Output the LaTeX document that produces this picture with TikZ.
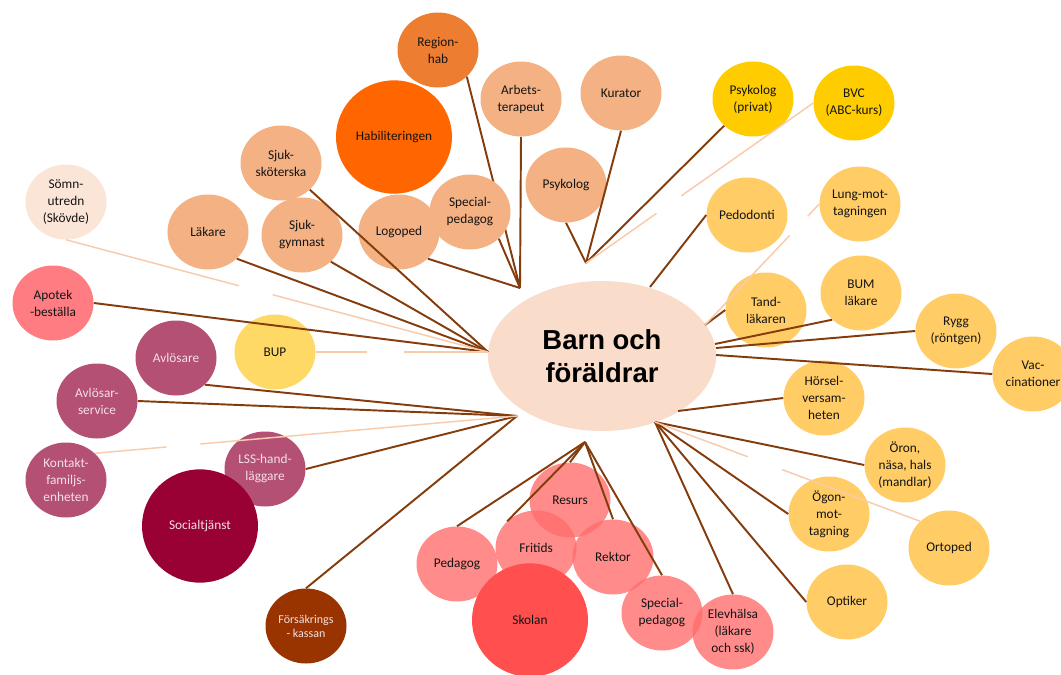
\documentclass[tikz,border=0pt]{standalone}
\usepackage{fontspec}
\setmainfont{Carlito}
\newfontfamily\centerfont{Liberation Sans}
\usetikzlibrary{shapes.geometric}
\definecolor{peach}{HTML}{F4B183}
\definecolor{somnc}{HTML}{FBE5D6}
\definecolor{regc}{HTML}{ED7D31}
\definecolor{habc}{HTML}{FF6600}
\definecolor{apoc}{HTML}{FF7D82}
\definecolor{purp}{HTML}{B45073}
\definecolor{bupc}{HTML}{FFD966}
\definecolor{goldc}{HTML}{FFCC00}
\definecolor{yorange}{HTML}{FFCC66}
\definecolor{schpink}{HTML}{FF6E6E}
\definecolor{skolc}{HTML}{FF4F4F}
\definecolor{socc}{HTML}{990033}
\definecolor{fkc}{HTML}{993300}
\definecolor{centc}{HTML}{F9DCC9}
\definecolor{dkline}{HTML}{843C0C}
\definecolor{ltline}{HTML}{F8CBAD}
\definecolor{txtc}{HTML}{141414}
\definecolor{lighttxt}{HTML}{F4E0E6}
\begin{document}
\begin{tikzpicture}[x=0.75pt,y=-0.75pt,
  bub/.style={ellipse, inner sep=0pt, minimum width=60.75pt, minimum height=56.25pt,
    align=center, font=\fontsize{10}{12.75}\selectfont, text=txtc},
  bigb/.style={bub, minimum width=87pt, minimum height=85pt},
  pch/.style={bub, fill=peach},
  ylwb/.style={bub, fill=yorange},
  prp/.style={bub, fill=purp, text=lighttxt},
  sch/.style={bub, fill=schpink, fill opacity=0.8, text opacity=1},
  dk/.style={draw=dkline, line width=1.45pt},
  lt/.style={draw=ltline, line width=1.1pt}]
\useasboundingbox (0,0) rectangle (1061,675);
\clip (0,0) rectangle (1061,675);
\fill[white] (0,0) rectangle (1061,675);

% hubs and end points
\coordinate (H0) at (488,352);
\coordinate (H1) at (520,288);
\coordinate (H2) at (586,263);
\coordinate (H3) at (655,422);
\coordinate (H4) at (585,442);
\coordinate (H5) at (517,416);
\coordinate (Ep) at (650,287);
\coordinate (Et) at (705,325);
\coordinate (Eb) at (715,344);
\coordinate (Er) at (716,348);
\coordinate (Ev) at (716,355);
\coordinate (Eh) at (678,411);

% top-left group
\node[bigb, fill=habc] (habil) at (394,137) {Habiliteringen};
\node[bub, fill=regc] (regionhab) at (438,50) {Region-\\hab};
\node[pch] (arbets) at (521,99) {Arbets-\\terapeut};
\node[pch] (kurator) at (621,93) {Kurator};
\node[pch] (psyk) at (566,185) {Psykolog};
\node[pch] (sjuksk) at (281,163) {Sjuk-\\sköterska};
\node[pch] (lakare) at (208,232) {Läkare};
\node[pch] (sjukgym) at (302,235) {Sjuk-\\gymnast};
\node[pch] (logoped) at (399,232) {Logoped};
\draw[dk] (regionhab.south east) -- (H1);
\node[pch] (spec1) at (470,212) {Special-\\pedagog};
\node[bub, fill=somnc] (somn) at (66,202) {Sömn-\\utredn\\(Skövde)};
\node[bub, fill=apoc] (apotek) at (53,303) {Apotek\\-beställa};
\node[bub, fill=bupc] (bup) at (275,352) {BUP};

% left purple group
\node[prp] (avlosare) at (176,358) {Avlösare};
\node[prp] (avlser) at (97,401) {Avlösar-\\service};
\node[prp] (kontakt) at (66,480) {Kontakt-\\familjs-\\enheten};
\node[prp] (lss) at (265,469) {LSS-hand-\\läggare};
\node[bigb, fill=socc, text=lighttxt] (soc) at (200,526) {Socialtjänst};
\node[bub, fill=fkc, text=lighttxt, font=\fontsize{9}{10.5}\selectfont] (fk) at (306,626) {Försäkrings\\- kassan};

% right yellow group
\node[bub, fill=goldc] (psykpriv) at (753,99) {Psykolog\\(privat)};
\node[bub, fill=goldc] (bvc) at (854,103) {BVC\\(ABC-kurs)};
\node[ylwb] (pedodonti) at (747,215) {Pedodonti};
\node[ylwb] (lung) at (860,204) {Lung-mot-\\tagningen};
\node[ylwb] (tand) at (766,310) {Tand-\\läkaren};
\node[ylwb] (bum) at (861,293) {BUM\\läkare};
\node[ylwb] (rygg) at (956,331) {Rygg\\(röntgen)};
\node[ylwb] (vacc) at (1033,374) {Vac-\\cinationer};
\node[ylwb] (horsel) at (824,398) {Hörsel-\\versam-\\heten};
\node[ylwb] (oron) at (905,465) {Öron,\\näsa, hals\\(mandlar)};
\node[ylwb] (ogon) at (829,514) {Ögon-\\mot-\\tagning};
\node[ylwb] (ortoped) at (949,548) {Ortoped};
\node[ylwb] (optiker) at (847,602) {Optiker};

% school group
\node[sch] (resurs) at (570,500) {Resurs};
\node[sch] (fritids) at (536,548) {Fritids};
\node[sch] (pedagog) at (457,564) {Pedagog};
\node[sch] (rektor) at (613,557) {Rektor};
\node[bigb, fill=skolc] (skolan) at (530,620) {Skolan};
\node[sch] (spec2) at (662,613) {Special-\\pedagog};
\node[sch] (elev) at (733,632) {Elevhälsa\\(läkare\\och ssk)};

% centre
\node[ellipse, fill=centc, inner sep=0pt, minimum width=171pt, minimum height=112.5pt,
  align=center, font=\centerfont\bfseries\fontsize{20.6}{24.75}\selectfont] (bf) at (602,356) {Barn och\\föräldrar};

% dark connectors
\draw[dk] (apotek.east) -- (H0);
\draw[dk] (lakare.south east) -- (H0);
\draw[dk] (sjukgym.south east) -- (H0);
\draw[dk] (sjuksk.south east) -- (H0);
\draw[dk] (arbets.south) -- (H1);
\draw[dk] (spec1.south east) -- (H1);
\draw[dk] (logoped.south east) -- (H1);
\draw[dk] (psyk.south) -- (H2);
\draw[dk] (kurator.south) -- (H2);
\draw[dk] (psykpriv.south west) -- (H2);
\draw[dk] (pedodonti.west) -- (Ep);
\draw[dk] (tand.west) -- (Et);
\draw[dk] (bum.south west) -- (Eb);
\draw[dk] (rygg.west) -- (Er);
\draw[dk] (vacc.west) -- (Ev);
\draw[dk] (horsel.west) -- (Eh);
\draw[dk] (oron.west) -- (H3);
\draw[dk] (ogon.west) -- (H3);
\draw[dk] (optiker.west) -- (H3);
\draw[dk] (elev.north) -- (H3);
\draw[dk] (pedagog.north) -- (H4);
\draw[dk] (fritids.north west) -- (H4);
\draw[dk] (resurs.north) -- (H4);
\draw[dk] (rektor.north) -- (H4);
\draw[dk] (spec2.north) -- (H4);
\draw[dk] (avlosare.south east) -- (H5);
\draw[dk] (avlser.east) -- (H5);
\draw[dk] (lss.east) -- (H5);
\draw[dk] (fk.north) -- (H5);

% light, broken connectors
\path (somn.south) -- (H0) coordinate[pos=0.41] (s1) coordinate[pos=0.49] (s2);
\draw[lt] (somn.south) -- (s1) (s2) -- (H0);
\path (bup.east) -- (H0) coordinate[pos=0.30] (b1) coordinate[pos=0.51] (b2);
\draw[lt] (bup.east) -- (b1) (b2) -- (H0);
\path (H2) -- (bvc.west) coordinate[pos=0.31] (v1) coordinate[pos=0.42] (v2);
\draw[lt] (H2) -- (v1) (v2) -- (bvc.west);
\path (lung.west) -- (Et) coordinate[pos=0.10] (l1) coordinate[pos=0.26] (l2);
\draw[lt] (lung.west) -- (l1) (l2) -- (Et);
\path (H3) -- (ortoped.north west) coordinate[pos=0.35] (o1) coordinate[pos=0.48] (o2);
\draw[lt] (H3) -- (o1) (o2) -- (ortoped.north west);
\path (kontakt.north east) -- (H5) coordinate[pos=0.17] (k1) coordinate[pos=0.25] (k2);
\draw[lt] (kontakt.north east) -- (k1) (k2) -- (H5);
\end{tikzpicture}
\end{document}
